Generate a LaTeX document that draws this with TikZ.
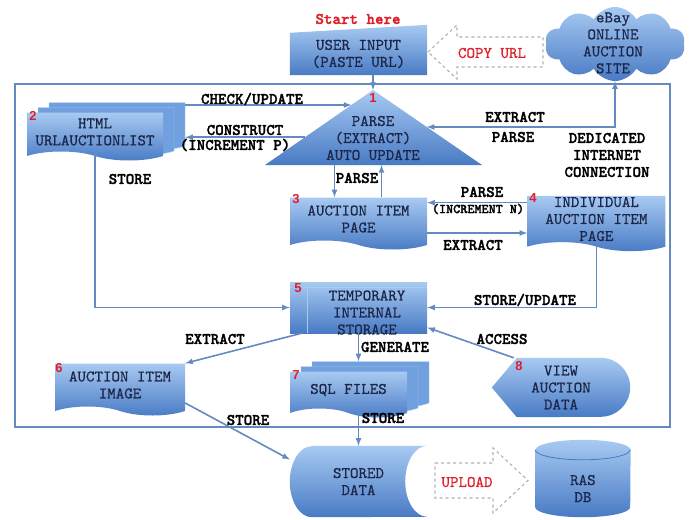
\documentclass[tikz,border=0pt]{standalone}
\usepackage{fontspec}
\setsansfont{Liberation Sans}
\newfontfamily\lblfam{lmmonolt10-bold.otf}[FakeBold=1.6]
\newfontfamily\boxfam{lmmono10-regular.otf}[FakeBold=0.6]
\usepackage{tikz}
\usetikzlibrary{positioning, arrows, calc, shapes.symbols, shadows}

\definecolor{boxtop}{RGB}{168,202,242}
\definecolor{boxmid}{RGB}{112,160,222}
\definecolor{boxbot}{RGB}{72,122,196}
\definecolor{linec}{RGB}{100,138,192}
\definecolor{boxtext}{RGB}{28,38,72}
\definecolor{numred}{RGB}{224,30,40}

\newcommand{\boxfont}{\boxfam\fontsize{16.2}{17}\selectfont}
\newcommand{\lblfont}{\lblfam\fontsize{16.2}{17}\selectfont}
\newcommand{\numfont}{\sffamily\bfseries\fontsize{13}{15}\selectfont}

\pgfdeclarelayer{bg}
\pgfsetlayers{bg,main}

\tikzset{
  frame/.style={draw=linec, line width=1.8pt},
  plain/.style={font=\boxfont, text=boxtext, align=center, inner sep=1pt},
  box/.style={plain, top color=boxtop, bottom color=boxbot, draw=none},
  shade box/.style={top color=boxtop, bottom color=boxbot},
  doc/.style={box, tape, tape bend top=none, tape bend bottom=out and in,
    tape bend height=9pt, minimum width=137pt, minimum height=52pt},
  stack/.style={
    copy shadow={shadow xshift=22pt, shadow yshift=10pt, fill=boxmid, draw=boxtop},
    copy shadow={shadow xshift=11pt, shadow yshift=5pt, fill=boxmid, draw=boxtop}},
  store/.style={box, minimum width=137pt, minimum height=51pt,
    path picture={
      \draw[boxtop, line width=0.8pt]
        ([xshift=17pt]path picture bounding box.north west) -- ([xshift=17pt]path picture bounding box.south west)
        ([yshift=-5pt]path picture bounding box.north west) -- ([yshift=-5pt]path picture bounding box.north east);}},
  lbl/.style={font=\lblfont, text=black, inner sep=1pt, align=center},
  small/.style={lbl, font=\lblfam\fontsize{13.5}{14}\selectfont},
  num/.style={font=\numfont, text=numred, inner sep=0pt},
  link/.style={draw=linec, line width=1.6pt, -latex},
  ghost/.style={draw=gray!60, dashed, line width=1.1pt, fill=white},
}

\begin{document}
\begin{tikzpicture}[x=1pt, y=-1pt, node distance=100pt]
\useasboundingbox (0,0) rectangle (695,519);

\begin{pgfonlayer}{bg}
  \draw[frame] (15,84) rectangle (670,427);
\end{pgfonlayer}

% top row
\node[lbl, text=numred] (start) at (358,19) {Start here};
\node[plain, minimum width=137pt, minimum height=42pt] (in) at (358.5,54) {USER INPUT\\(PASTE URL)};
\node[cloud, cloud puffs=10, cloud puff arc=120, aspect=1.9, shade box,
  minimum width=140pt, minimum height=74pt, inner sep=0pt] (web) at (615,44) {};
\node[plain] (webt) at (613,43) {eBay\\ONLINE\\AUCTION\\SITE};
\node[plain, text=numred] (url) at (492,53) {COPY URL};

% parse triangle
\coordinate (ta) at (373,90);
\coordinate (tl) at (265,165);
\coordinate (tr) at (482,165);
\node[plain] (par) at (373,138) {PARSE\\(EXTRACT)\\AUTO UPDATE};

\node[doc, stack, minimum width=136pt, minimum height=48pt] (html) at (95,132) {HTML\\URLAUCTIONLIST};
\node[doc] (d3) at (358.5,219) {AUCTION ITEM\\PAGE};
\node[doc, right=of d3, minimum width=138pt] (d4) {INDIVIDUAL\\AUCTION ITEM\\PAGE};
\node[store] (tmp) at (358.5,307.5) {};
\node[plain] (tmpt) at (367,312.5) {TEMPORARY\\INTERNAL\\STORAGE};
\node[doc, minimum width=130pt] (d6) at (120,385) {AUCTION ITEM\\IMAGE};
\node[doc, stack, minimum width=117pt, minimum height=46pt] (sql) at (348.5,390) {SQL FILES};
\node[plain, minimum width=138pt, minimum height=59pt] (view) at (561,387.5) {VIEW\\AUCTION\\DATA};
\node[plain, minimum width=137pt, minimum height=71pt] (sto) at (358.5,481.5) {STORED\\DATA};
\node[plain, minimum width=95pt, minimum height=57pt, right=108pt of sto, yshift=-7pt] (db) {RAS\\DB};
\node[plain, text=numred] (up) at (467,482) {UPLOAD};

% numbers
\node[num] (n1) at (373,98) {1};
\node[num] (n2) at (33,116) {2};
\node[num] (n3) at (296,199) {3};
\node[num] (n4) at (533,198) {4};
\node[num] (n5) at (298,288) {5};
\node[num] (n6) at (59,368) {6};
\node[num] (n7) at (296,375) {7};
\node[num] (n8) at (519,366) {8};

% shapes without a node shape
\begin{pgfonlayer}{bg}
  \shade[shade box] (in.south west) -- (in.north west) -- ([yshift=8pt]in.north east) -- (in.south east) -- cycle;
  \shade[shade box] (ta) -- (tr) -- (tl) -- cycle;
  \shade[shade box] (view.west) -- ([xshift=25pt]view.north west) -- ([xshift=-29.5pt]view.north east)
    arc[start angle=90, end angle=-90, radius=29.5pt] -- ([xshift=25pt]view.south west) -- cycle;
  \shade[shade box] ([xshift=22pt]sto.north west) -- (sto.north east)
    arc[start angle=90, end angle=270, x radius=22pt, y radius=35.5pt]
    -- ([xshift=22pt]sto.south west)
    arc[start angle=270, end angle=90, x radius=22pt, y radius=35.5pt] -- cycle;
  \shade[shade box] ([yshift=10pt]db.north west) -- ([yshift=10pt]db.south west)
    arc[start angle=180, end angle=360, x radius=47.5pt, y radius=10pt]
    -- ([yshift=10pt]db.north east)
    arc[start angle=0, end angle=180, x radius=47.5pt, y radius=10pt] -- cycle;
  \draw[boxbot, line width=0.8pt] ([yshift=10pt]db.north west)
    arc[start angle=180, end angle=360, x radius=47.5pt, y radius=10pt];
  \draw[ghost] (428,52) -- (457,25) -- (457,37) -- (543,37) -- (543,67) -- (457,67) -- (457,79) -- cycle;
  \draw[ghost] (435,463) -- (493,463) -- (493,448) -- (528,480.5) -- (493,513) -- (493,498) -- (435,498) -- cycle;
\end{pgfonlayer}

% connectors
\coordinate (c1) at ($(tl)!0.8!(ta)$);
\coordinate (c2) at ($(tl)!0.37!(ta)$);
\coordinate (c3) at ($(tr)!0.507!(ta)$);
\coordinate (h1) at ([xshift=22pt]html.east);
\coordinate (p1) at ([xshift=-24pt]d3.north);
\coordinate (p2) at ([xshift=23pt]d3.north);
\coordinate (q1) at ([yshift=-7pt]d4.north west);
\coordinate (q2) at ([yshift=-14pt]d3.east);
\coordinate (s1) at ([yshift=10pt]sql.north);

\draw[link] (in.south -| ta) -- (ta);
\draw[link] (h1 |- c1) -- (c1);
\draw[link] (c2) -- (h1 |- c2);
\draw[link, latex-latex] (c3) -- (c3 -| web.south) -- (web.south);
\draw[link] (p1 |- tl) -- (p1);
\draw[link] (p2) -- (p2 |- tl);
\draw[link] (q1) -- (q1 -| d3.east);
\draw[link] (q2) -- (q2 -| d4.west);
\draw[link] (d4.south) |- (tmp.east);
\draw[link] (html.south) |- (tmp.west);
\draw[link] ([xshift=12pt]tmp.south west) -- (d6.north east);
\draw[link] (tmp.south) -- (tmp.south |- s1);
\draw[link] (tmp.south |- sql.south) -- (tmp.south |- sto.north);
\draw[link] ([xshift=22pt]view.north west) -- ([yshift=-20pt]tmp.east);
\draw[link] ([yshift=-18pt]d6.east) -- ([yshift=22pt]sto.west);

% labels
\node[lbl] (l1) at (252,99) {CHECK/UPDATE};
\node[lbl] (l2) at (245,130) {CONSTRUCT};
\node[lbl] (l3) at (235,145) {(INCREMENT P)};
\node[lbl] (l4) at (130,179) {STORE};
\node[lbl] (l5) at (515,117) {EXTRACT};
\node[lbl] (l6) at (513,137) {PARSE};
\node[lbl] (l7) at (607,155) {DEDICATED\\INTERNET\\CONNECTION};
\node[lbl] (l8) at (357,178) {PARSE};
\node[lbl] (l9) at (482,192) {PARSE};
\node[small] (l10) at (478,209) {(INCREMENT N)};
\node[lbl] (l11) at (473,245) {EXTRACT};
\node[lbl] (l12) at (525,300) {STORE/UPDATE};
\node[lbl] (l13) at (215,339) {EXTRACT};
\node[lbl] (l14) at (395,347) {GENERATE};
\node[lbl] (l15) at (502,339) {ACCESS};
\node[lbl] (l16) at (383,418) {STORE};
\node[lbl] (l17) at (248,420) {STORE};
\end{tikzpicture}
\end{document}
